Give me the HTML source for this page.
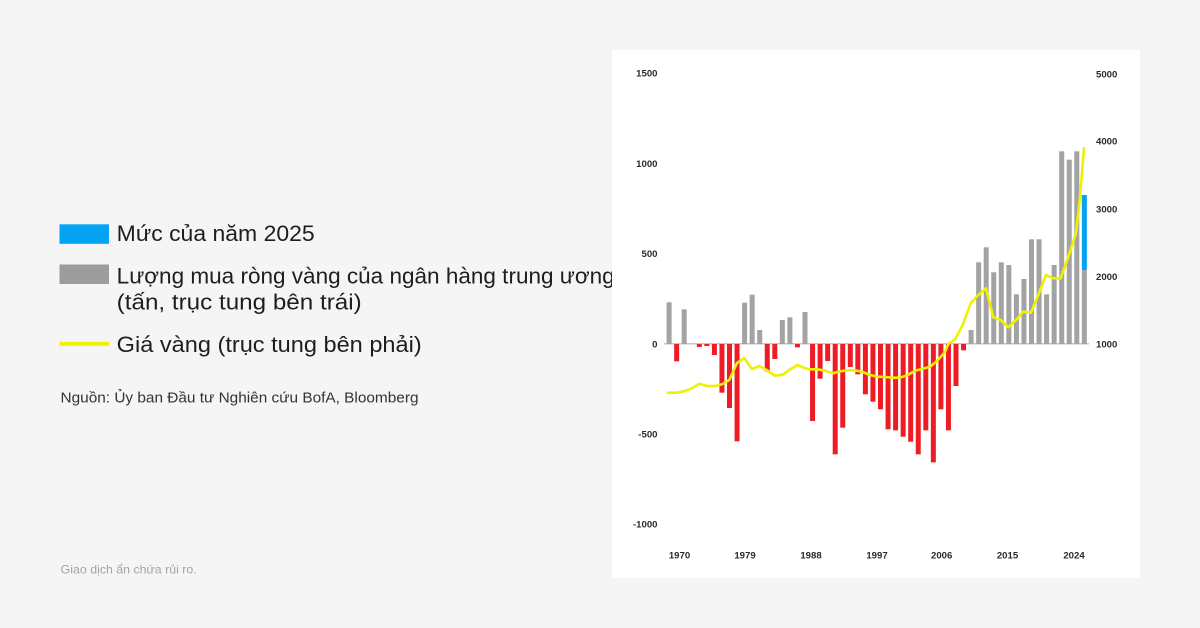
<!DOCTYPE html>
<html>
<head>
<meta charset="utf-8">
<style>
  html, body { margin: 0; padding: 0; background: #f5f5f5; }
  svg { display: block; }
  .leg { font-family: "Liberation Sans", "DejaVu Sans", sans-serif; font-size: 22px; fill: #1e1e1e; }
  .tick { font-family: "Liberation Sans", sans-serif; font-size: 9.6px; font-weight: bold; fill: #2a2a2a; }
</style>
</head>
<body>
<svg width="1200" height="628" viewBox="0 0 1200 628" xmlns="http://www.w3.org/2000/svg">
  <rect x="0" y="0" width="1200" height="628" fill="#f5f5f5"/>

  <!-- Legend -->
  <rect x="59.5" y="224.3" width="49.5" height="19.5" fill="#04a3f4"/>
  <text class="leg" x="116.7" y="241" textLength="198" lengthAdjust="spacingAndGlyphs">Mức của năm 2025</text>

  <rect x="59.5" y="264.5" width="49.5" height="19.5" fill="#9c9c9c"/>
  <text class="leg" x="116.7" y="283.3" textLength="498" lengthAdjust="spacingAndGlyphs">Lượng mua ròng vàng của ngân hàng trung ương</text>
  <text class="leg" x="116.7" y="309.5" textLength="245" lengthAdjust="spacingAndGlyphs">(tấn, trục tung bên trái)</text>

  <rect x="59.5" y="341.8" width="49.5" height="4" fill="#eef200"/>
  <text class="leg" x="116.7" y="352" textLength="305" lengthAdjust="spacingAndGlyphs">Giá vàng (trục tung bên phải)</text>

  <text x="60.5" y="402.3" font-family="Liberation Sans, sans-serif" font-size="15" fill="#333" textLength="358" lengthAdjust="spacingAndGlyphs">Nguồn: Ủy ban Đầu tư Nghiên cứu BofA, Bloomberg</text>

  <text x="60.7" y="573.3" font-family="Liberation Sans, sans-serif" font-size="12" fill="#a3a3a3" textLength="136" lengthAdjust="spacingAndGlyphs">Giao dịch ẩn chứa rủi ro.</text>

  <!-- Chart panel -->
  <rect x="612" y="50" width="528" height="528" fill="#ffffff"/>

  <!-- Left axis labels -->
  <g class="tick" text-anchor="end">
    <text x="657.5" y="76.7">1500</text>
    <text x="657.5" y="166.8">1000</text>
    <text x="657.5" y="257">500</text>
    <text x="657.5" y="347.3">0</text>
    <text x="657.5" y="437.5">-500</text>
    <text x="657.5" y="527.7">-1000</text>
  </g>
  <!-- Right axis labels -->
  <g class="tick" text-anchor="start">
    <text x="1096" y="77.3">5000</text>
    <text x="1096" y="144.7">4000</text>
    <text x="1096" y="212.5">3000</text>
    <text x="1096" y="280">2000</text>
    <text x="1096" y="347.5">1000</text>
  </g>
  <!-- X labels -->
  <g class="tick" text-anchor="middle">
    <text x="679.5" y="558.3">1970</text>
    <text x="745" y="558.3">1979</text>
    <text x="811" y="558.3">1988</text>
    <text x="877" y="558.3">1997</text>
    <text x="941.7" y="558.3">2006</text>
    <text x="1007.5" y="558.3">2015</text>
    <text x="1074" y="558.3">2024</text>
  </g>

  <!-- Zero baseline -->
  <line x1="664" y1="343.8" x2="1089" y2="343.8" stroke="#b0b0b0" stroke-width="1.2"/>

  <!-- Bars -->
  <g id="bars"></g>
  <g>
    <!-- gray = #a3a3a3, red = #ee1c25 -->
    <rect x="666.6" y="302.3" width="5" height="41.7" fill="#a3a3a3"/>
    <rect x="674.15" y="344" width="5" height="17.3" fill="#ee1c25"/>
    <rect x="681.7" y="309.3" width="5" height="34.7" fill="#a3a3a3"/>
    <rect x="696.8" y="344" width="5" height="3" fill="#ee1c25"/>
    <rect x="704.35" y="344" width="5" height="2" fill="#ee1c25"/>
    <rect x="711.9" y="344" width="5" height="11" fill="#ee1c25"/>
    <rect x="719.45" y="344" width="5" height="48.7" fill="#ee1c25"/>
    <rect x="727" y="344" width="5" height="64" fill="#ee1c25"/>
    <rect x="734.55" y="344" width="5" height="97.3" fill="#ee1c25"/>
    <rect x="742.1" y="302.7" width="5" height="41.3" fill="#a3a3a3"/>
    <rect x="749.65" y="294.7" width="5" height="49.3" fill="#a3a3a3"/>
    <rect x="757.2" y="330" width="5" height="14" fill="#a3a3a3"/>
    <rect x="764.75" y="344" width="5" height="27.3" fill="#ee1c25"/>
    <rect x="772.3" y="344" width="5" height="15" fill="#ee1c25"/>
    <rect x="779.85" y="320" width="5" height="24" fill="#a3a3a3"/>
    <rect x="787.4" y="317.3" width="5" height="26.7" fill="#a3a3a3"/>
    <rect x="794.95" y="344" width="5" height="3.3" fill="#ee1c25"/>
    <rect x="802.5" y="312" width="5" height="32" fill="#a3a3a3"/>
    <rect x="810.05" y="344" width="5" height="77" fill="#ee1c25"/>
    <rect x="817.6" y="344" width="5" height="34.7" fill="#ee1c25"/>
    <rect x="825.15" y="344" width="5" height="17" fill="#ee1c25"/>
    <rect x="832.7" y="344" width="5" height="110.3" fill="#ee1c25"/>
    <rect x="840.25" y="344" width="5" height="83.7" fill="#ee1c25"/>
    <rect x="847.8" y="344" width="5" height="23" fill="#ee1c25"/>
    <rect x="855.35" y="344" width="5" height="30.3" fill="#ee1c25"/>
    <rect x="862.9" y="344" width="5" height="50.3" fill="#ee1c25"/>
    <rect x="870.45" y="344" width="5" height="57.7" fill="#ee1c25"/>
    <rect x="878" y="344" width="5" height="65.3" fill="#ee1c25"/>
    <rect x="885.55" y="344" width="5" height="85.3" fill="#ee1c25"/>
    <rect x="893.1" y="344" width="5" height="86.3" fill="#ee1c25"/>
    <rect x="900.65" y="344" width="5" height="92.7" fill="#ee1c25"/>
    <rect x="908.2" y="344" width="5" height="97.7" fill="#ee1c25"/>
    <rect x="915.75" y="344" width="5" height="110.3" fill="#ee1c25"/>
    <rect x="923.3" y="344" width="5" height="86.3" fill="#ee1c25"/>
    <rect x="930.85" y="344" width="5" height="118.3" fill="#ee1c25"/>
    <rect x="938.4" y="344" width="5" height="65.3" fill="#ee1c25"/>
    <rect x="945.95" y="344" width="5" height="86.3" fill="#ee1c25"/>
    <rect x="953.5" y="344" width="5" height="42" fill="#ee1c25"/>
    <rect x="961.05" y="344" width="5" height="6.3" fill="#ee1c25"/>
    <rect x="968.6" y="330" width="5" height="14" fill="#a3a3a3"/>
    <rect x="976.15" y="262.3" width="5" height="81.7" fill="#a3a3a3"/>
    <rect x="983.7" y="247.3" width="5" height="96.7" fill="#a3a3a3"/>
    <rect x="991.25" y="272.3" width="5" height="71.7" fill="#a3a3a3"/>
    <rect x="998.8" y="262.3" width="5" height="81.7" fill="#a3a3a3"/>
    <rect x="1006.35" y="265" width="5" height="79" fill="#a3a3a3"/>
    <rect x="1013.9" y="294.3" width="5" height="49.7" fill="#a3a3a3"/>
    <rect x="1021.45" y="279" width="5" height="65" fill="#a3a3a3"/>
    <rect x="1029" y="239.3" width="5" height="104.7" fill="#a3a3a3"/>
    <rect x="1036.55" y="239.3" width="5" height="104.7" fill="#a3a3a3"/>
    <rect x="1044.1" y="294.3" width="5" height="49.7" fill="#a3a3a3"/>
    <rect x="1051.65" y="265" width="5" height="79" fill="#a3a3a3"/>
    <rect x="1059.2" y="151.3" width="5" height="192.7" fill="#a3a3a3"/>
    <rect x="1066.75" y="159.7" width="5" height="184.3" fill="#a3a3a3"/>
    <rect x="1074.3" y="151.3" width="5" height="192.7" fill="#a3a3a3"/>
    <rect x="1081.85" y="270" width="5" height="74" fill="#a3a3a3"/>
    <rect x="1081.85" y="195" width="5" height="75" fill="#04a3f4"/>
  </g>

  <!-- Gold price line -->
  <polyline fill="none" stroke="#eef200" stroke-width="2.6" stroke-linejoin="round" stroke-linecap="round"
    points="668,392.7 677,392.7 683.7,391.3 692,388.3 699.3,383.7 707,386 715.3,386 722,384.3 729.3,380 737,363 744.3,358 752,369 759.3,366 767,370.3 774.7,375.7 782.7,374.7 790.3,369.3 797.7,365 805.3,368.3 810,369.3 817.3,369.3 825,370.7 833.3,373.3 840,371.3 847.7,370.3 855,370.3 862.7,372 870,375 877.3,376.7 885,377 892.7,377.7 900,377.7 907.3,375.3 915,370.7 922.7,368.7 930,366.7 937.3,360.7 945,352 948.3,344 955,339.3 962.7,325 970.7,303.3 978.3,295 986,288.3 993.3,317.3 1000.7,320 1008.3,327.3 1016,320 1023.3,311.7 1031,312.7 1038.7,294 1046,275 1053.3,278.3 1060.7,278.3 1068.3,256.7 1076,233.3 1080,196.7 1084,148.3"/>
</svg>
</body>
</html>
